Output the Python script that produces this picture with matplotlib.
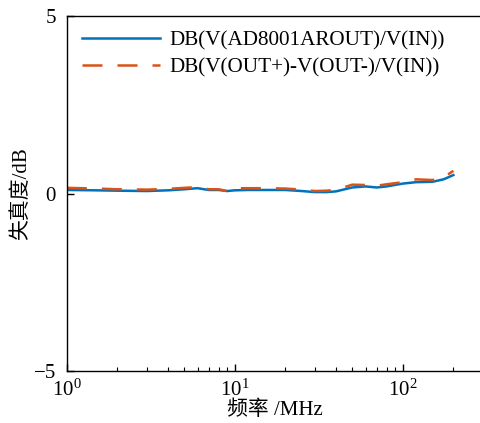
import matplotlib
matplotlib.use("Agg")
import matplotlib.pyplot as plt
from matplotlib.ticker import LogLocator, FixedLocator, NullFormatter

plt.rcParams['font.family'] = ['Liberation Serif', 'Noto Sans CJK SC', 'DejaVu Sans']
plt.rcParams['mathtext.fontset'] = 'stix'
plt.rcParams['axes.unicode_minus'] = True

freq = [1, 1.5, 2, 3, 4, 5, 6, 7, 8, 9, 10, 12, 15, 20, 25, 30, 35, 40, 50, 60, 70, 80, 100, 120, 150, 175, 200]
ad8001 = [0.10, 0.09, 0.08, 0.07, 0.09, 0.12, 0.15, 0.10, 0.10, 0.07, 0.09, 0.10, 0.10, 0.10, 0.07, 0.04, 0.04, 0.06,
          0.17, 0.20, 0.17, 0.20, 0.28, 0.32, 0.33, 0.40, 0.52]
diffout = [0.16, 0.14, 0.12, 0.11, 0.13, 0.16, 0.18, 0.12, 0.12, 0.07, 0.15, 0.15, 0.15, 0.14, 0.11, 0.07, 0.08, 0.10,
           0.25, 0.24, 0.22, 0.26, 0.32, 0.40, 0.38, 0.45, 0.64]
labels = ['DB(V(AD8001AROUT)/V(IN))', 'DB(V(OUT+)-V(OUT-)/V(IN))']
yticks = [-5, 0, 5]

fig = plt.figure(figsize=(4.81, 4.23), dpi=100)
ax = fig.add_axes([0.139, 0.123, 0.865, 0.839])
ax.plot(freq, ad8001, color='#0072BD', lw=1.8, label=labels[0])
ax.plot(freq, diffout, color='#D95319', lw=1.8, ls=(0, (8, 6)), label=labels[1])
ax.set_xscale('log')
ax.set_xlim(1, 300)
ax.set_ylim(-5, 5)
ax.yaxis.set_major_locator(FixedLocator(yticks))
ax.xaxis.set_minor_locator(LogLocator(base=10, subs=range(2, 10)))
ax.xaxis.set_minor_formatter(NullFormatter())
ax.tick_params(which='both', direction='in', labelsize=15, top=False, right=False)
ax.tick_params(which='major', length=5, width=1)
ax.tick_params(which='minor', length=3, width=0.8)
ax.tick_params(axis='x', which='major', pad=6)
ax.tick_params(axis='y', which='major', pad=8)
for s in ax.spines.values():
    s.set_linewidth(1.0)
ax.set_xlabel('频率 /MHz', fontsize=15, labelpad=0)
ax.set_ylabel('失真度/dB', fontsize=15, labelpad=2)
ax.legend(loc='upper left', bbox_to_anchor=(0.0, 1.0), frameon=False, fontsize=15.2,
          handlelength=3.7, handletextpad=0.45, labelspacing=0.35, borderaxespad=0.3)
fig.savefig('out.png', dpi=100)
